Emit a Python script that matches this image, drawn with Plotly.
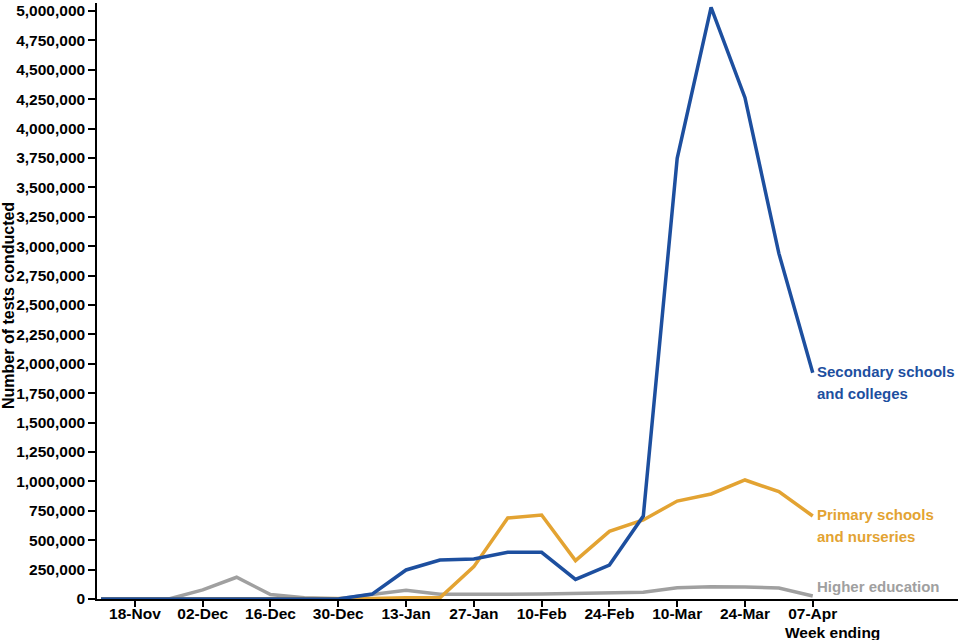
import plotly.graph_objects as go

weeks = ["2020-11-11", "2020-11-18", "2020-11-25", "2020-12-02", "2020-12-09", "2020-12-16",
         "2020-12-23", "2020-12-30", "2021-01-06", "2021-01-13", "2021-01-20", "2021-01-27",
         "2021-02-03", "2021-02-10", "2021-02-17", "2021-02-24", "2021-03-03", "2021-03-10",
         "2021-03-17", "2021-03-24", "2021-03-31", "2021-04-07"]

secondary = [0, 0, 0, 0, 0, 0, 0, 0, 42000, 247000, 332000, 340000,
             397000, 397000, 167000, 289000, 705000, 3747000, 5030000, 4263000, 2939000, 1924000]
primary = [0, 0, 0, 0, 0, 0, 0, 0, 5000, 10000, 10000, 275000,
           689000, 714000, 326000, 575000, 672000, 833000, 893000, 1012000, 913000, 706000]
higher = [0, 0, 0, 77000, 185000, 38000, 10000, 3000, 42000, 75000, 40000, 37000,
          40000, 42000, 45000, 48000, 57000, 96000, 105000, 103000, 94000, 26000]

tick_dates = ["2020-11-18", "2020-12-02", "2020-12-16", "2020-12-30", "2021-01-13", "2021-01-27",
              "2021-02-10", "2021-02-24", "2021-03-10", "2021-03-24", "2021-04-07"]
tick_labels = ["18-Nov", "02-Dec", "16-Dec", "30-Dec", "13-Jan", "27-Jan",
               "10-Feb", "24-Feb", "10-Mar", "24-Mar", "07-Apr"]
y_ticks = list(range(0, 5000001, 250000))
y_labels = [f"{v:,}" for v in y_ticks]

BLUE = "#1d4f9f"
ORANGE = "#e3a332"
GRAY = "#a0a0a0"
FONT = "Liberation Sans, Arial, sans-serif"

fig = go.Figure()
fig.add_trace(go.Scatter(x=weeks, y=higher, mode="lines", line=dict(color=GRAY, width=3.5), name="Higher education"))
fig.add_trace(go.Scatter(x=weeks, y=primary, mode="lines", line=dict(color=ORANGE, width=3.5), name="Primary schools and nurseries"))
fig.add_trace(go.Scatter(x=weeks, y=secondary, mode="lines", line=dict(color=BLUE, width=3.5), name="Secondary schools and colleges"))

last = weeks[-1]
labels = [
    (secondary[-1], ["Secondary schools", "and colleges"], BLUE),
    (primary[-1], ["Primary schools", "and nurseries"], ORANGE),
    (higher[-1], ["Higher education"], GRAY),
]
annotations = []
for yv, lines, col in labels:
    for i, t in enumerate(lines):
        ys = 1 - 22 * i
        if len(lines) == 1:
            ys = 9
        annotations.append(dict(x=last, y=yv, xref="x", yref="y", text=t, showarrow=False,
                                xanchor="left", yanchor="middle", xshift=2, yshift=ys,
                                font=dict(family=FONT, size=15, color=col, weight="bold")))

annotations.append(dict(x="2021-04-07", y=0, xref="x", yref="paper", text="Week ending", showarrow=False,
                        xanchor="center", yanchor="middle", xshift=20, yshift=-33,
                        font=dict(family=FONT, size=15.5, color="#000000", weight="bold")))
annotations.append(dict(x=0, y=0.5, xref="paper", yref="paper", text="Number of tests conducted",
                        showarrow=False, textangle=-90, xanchor="center", yanchor="middle",
                        xshift=-89, yshift=-5,
                        font=dict(family=FONT, size=16, color="#000000", weight="bold")))

fig.update_layout(
    width=960, height=640,
    margin=dict(l=97, r=2, t=3, b=41),
    paper_bgcolor="white", plot_bgcolor="white",
    showlegend=False,
    font=dict(family=FONT, size=15, color="#000000"),
    annotations=annotations,
    xaxis=dict(type="date", range=["2020-11-10 04:00", "2021-05-07"],
               tickvals=tick_dates, ticktext=tick_labels,
               showgrid=False, zeroline=False, showline=True, linecolor="#000000", linewidth=1.5,
               ticks="outside", ticklen=6, tickcolor="#000000", tickwidth=1.5,
               ticklabelstandoff=-6,
               tickfont=dict(family=FONT, size=15.5, color="#000000", weight="bold")),
    yaxis=dict(range=[0, 5068000], tickvals=y_ticks, ticktext=y_labels,
               showgrid=False, zeroline=False, showline=True, linecolor="#000000", linewidth=1.5,
               ticks="outside", ticklen=7, tickcolor="#000000", tickwidth=1.5,
               tickfont=dict(family=FONT, size=15.5, color="#000000", weight="bold")),
)

fig.write_html("out.html", config={"displayModeBar": False},
               post_script="document.body.style.margin='0px';document.body.style.overflow='hidden';")
